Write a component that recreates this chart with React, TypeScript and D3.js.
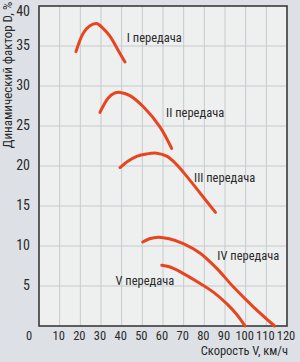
import * as d3 from 'd3'

const speedTicks = [0, 10, 20, 30, 40, 50, 60, 70, 80, 90, 100, 110, 120]
const factorTicks = [5, 10, 15, 20, 25, 30, 35, 40]

const gearNames = ['I передача', 'II передача', 'III передача', 'IV передача', 'V передача']

// [speed km/h, dynamic factor %]
const gear1: [number, number][] = [[17.9, 34.3], [21.4, 36.6], [24.5, 37.5], [27.9, 37.8], [31, 37.2], [34.4, 36.2], [38, 34.6], [41.6, 33]]
const gear2: [number, number][] = [[29.5, 26.7], [33.5, 28.5], [36.5, 29.1], [39.2, 29.2], [44, 28.8], [50.5, 27.4], [58.5, 24.9], [64.2, 22.2]]
const gear3: [number, number][] = [[39.2, 19.8], [43, 20.6], [47.3, 21.2], [52, 21.5], [56.9, 21.6], [62, 21.2], [66.5, 20.2], [71.5, 18.7], [78, 16.6], [85.4, 14.2]]
const gear4: [number, number][] = [[50.2, 10.5], [53.5, 10.9], [57.7, 11.1], [63, 10.9], [69.8, 10.3], [78, 9.1], [86, 7.2], [94, 4.9], [103.7, 2.4], [114, 0]]
const gear5: [number, number][] = [[59.4, 7.6], [63, 7.4], [68.2, 6.8], [78, 5.3], [84.5, 4.2], [90.8, 2.8], [95.5, 1.5], [99.7, 0]]

const gears = [gear1, gear2, gear3, gear4, gear5]
// label anchor points in data units
const labelAt: [number, number][] = [[42.5, 35.9], [61.5, 26.5], [75, 18.4], [86.3, 8.7], [37, 5.5]]

const width = 300
const height = 362
const left = 39
const right = 287
const top = 6
const bottom = 326

export default function App() {
  const x = d3.scaleLinear([0, 120], [left, right])
  const y = d3.scaleLinear([0, 40], [bottom, top])
  const line = d3.line<[number, number]>(d => x(d[0]), d => y(d[1])).curve(d3.curveCatmullRom)
  const font = '"Liberation Sans Narrow", "Roboto Condensed", "Liberation Sans", Arial, sans-serif'

  return (
    <svg width={width} height={height} style={{ position: 'fixed', left: 0, top: 0, display: 'block' }}
      fontFamily={font}>
      <rect width={width} height={height} fill="#dde1e6" />
      <rect x={left} y={top} width={right - left} height={bottom - top} fill="#eef0f0" />
      <g stroke="#c6cacc" strokeWidth="1">
        {speedTicks.slice(1, -1).map(v => (
          <line key={v} x1={x(v)} x2={x(v)} y1={top} y2={bottom} />
        ))}
        {factorTicks.slice(0, -1).map(v => (
          <line key={v} x1={left} x2={right} y1={y(v)} y2={y(v)} />
        ))}
      </g>
      <rect x={left} y={top} width={right - left} height={bottom - top} fill="none" stroke="#3a3a3a" strokeWidth="1.6" />
      <g fill="none" stroke="#e8451f" strokeWidth="3" strokeLinecap="round">
        {gears.map((g, i) => (
          <path key={i} d={line(g) || undefined} />
        ))}
      </g>
      <g fontSize="12.5" fill="#2a2a2a">
        {gearNames.map((name, i) => (
          <text key={name} x={x(labelAt[i][0])} y={y(labelAt[i][1])} dominantBaseline="middle">{name}</text>
        ))}
      </g>
      <g fontSize="12.5" fill="#2a2a2a">
        {speedTicks.map(v => (
          <text key={v} x={v === 0 ? x(v) - 10 : x(v) - 1} y={bottom + 11} textAnchor="middle" dominantBaseline="middle">{v}</text>
        ))}
      </g>
      <g fontSize="14" fill="#2a2a2a">
        {factorTicks.map(v => (
          <text key={v} x={left - 9} y={Math.max(y(v), 12)} textAnchor="end" dominantBaseline="middle">{v}</text>
        ))}
      </g>
      <text x={288} y={352} textAnchor="end" dominantBaseline="middle" fontSize="12.5" fill="#2a2a2a">Скорость V, км/ч</text>
      <text transform="translate(9,75) rotate(-90)" textAnchor="middle" dominantBaseline="middle" fontSize="13" fill="#2a2a2a">Динамический фактор D, %</text>
    </svg>
  )
}
